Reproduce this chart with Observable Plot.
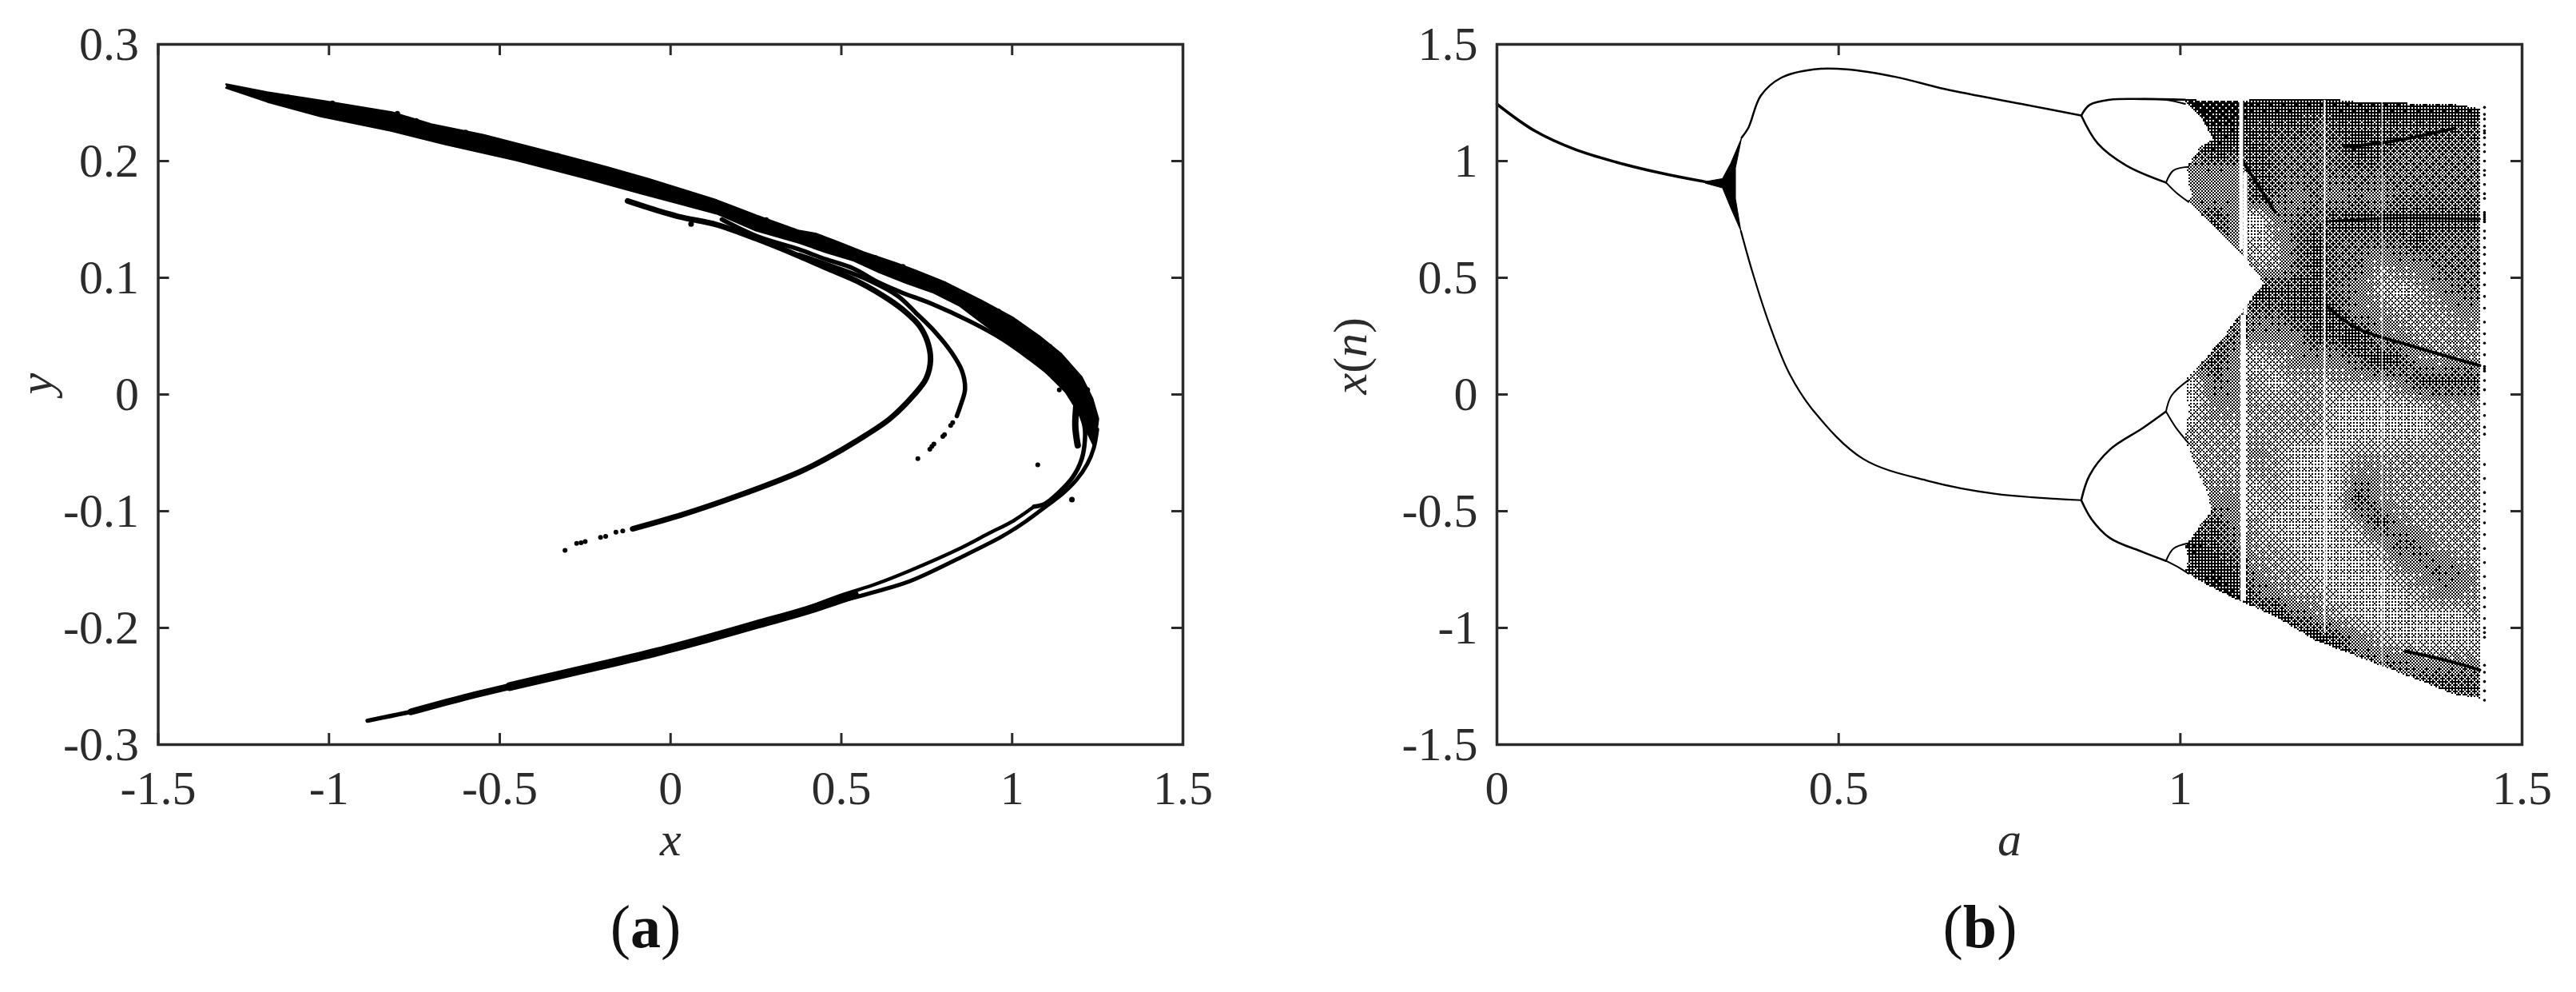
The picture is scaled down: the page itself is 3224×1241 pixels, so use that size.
<!DOCTYPE html>
<html><head><meta charset="utf-8">
<script src="https://cdn.jsdelivr.net/npm/d3@7"></script>
<script src="https://cdn.jsdelivr.net/npm/@observablehq/plot@0.6"></script>
<style>
html,body{margin:0;background:#fff}
#wrap{position:relative;width:3224px;height:1241px;overflow:hidden}
#wrap svg{position:absolute;top:0;background:#fff}
.cap{position:absolute;top:1116px;font:76px "Liberation Serif",serif;color:#111;transform:translateX(-50%)}
.cap b{font-weight:700}
</style></head><body>
<div id="wrap"></div>
<script>
// ---------- shared ticks ----------
const ticksAX=[-1.5,-1,-0.5,0,0.5,1,1.5];
const ticksAY=[-0.3,-0.2,-0.1,0,0.1,0.2,0.3];
const ticksBX=[0,0.5,1,1.5];
const ticksBY=[-1.5,-1,-0.5,0,0.5,1,1.5];

// ---------- panel (a): attractor, [x,y] ----------
const bandTop=[[-1.301,.2658],[-1.181,.2589],[-1.015,.2514],[-.816,.2418],[-.701,.2315],[-.549,.2224],[-.367,.2087],[-.231,.1984],[-.064,.1847],[.135,.1664],[.25,.1535],[.377,.1402],[.424,.1379],[.486,.1311],[.564,.1219],[.658,.1128],[.72,.1059],[.806,.0957],[.908,.0808],[1.001,.066],[1.079,.05],[1.142,.0352],[1.204,.0146],[1.235,-.0036],[1.252,-.0208],[1.247,-.0322],[1.239,-.0436]];
const bandBottom=[[1.212,-.0276],[1.196,-.0162],[1.157,.0021],[1.079,.0249],[1.001,.0432],[.923,.0591],[.845,.0763],[.767,.0877],[.689,.0957],[.611,.1048],[.533,.1151],[.455,.1219],[.377,.1299],[.25,.1405],[.135,.155],[-.084,.1721],[-.241,.1847],[-.451,.2007],[-.659,.2144],[-.816,.2258],[-1.024,.2384],[-1.181,.2509],[-1.301,.2628]];
const lineB=[[.15,.15],[.25,.136],[.377,.1242],[.455,.1158],[.533,.1082],[.611,.0957],[.674,.0877],[.767,.0774],[.877,.0626],[.97,.0477],[1.048,.0317],[1.126,.0135],[1.165,.0009],[1.196,-.014],[1.212,-.0276],[1.213,-.039],[1.204,-.055],[1.177,-.071],[1.134,-.0847],[1.095,-.0938],[1.064,-.0961]];
const lineOuter=[[1.249,-.0299],[1.239,-.0459],[1.22,-.0596],[1.188,-.0733],[1.149,-.0847],[1.103,-.095],[1.04,-.1087],[.97,-.1217],[.85,-.1395],[.7,-.16],[.6,-.169],[.5,-.177],[.45,-.181]];
const lineInner=[[1.064,-.0961],[1.001,-.1087],[.935,-.1185],[.85,-.1315],[.7,-.151],[.6,-.1625],[.5,-.172],[.4,-.183]];
const armWide=[[-.471,-.2503],[-.327,-.2405],[-.183,-.2308],[-.038,-.2205],[.106,-.2092],[.25,-.1973],[.394,-.1855],[.538,-.1715]];
const armMid=[[-.76,-.2719],[-.615,-.2605],[-.471,-.2503]];
const armTip=[[-.887,-.2795],[-.82,-.2755],[-.76,-.2719]];
const inner1=[[-.126,.1658],[.02,.1527],[.135,.1455],[.25,.1335],[.377,.1185],[.455,.1085],[.557,.0955],[.642,.0808],[.689,.0705],[.728,.0591],[.752,.0454],[.761,.0295],[.748,.0135],[.713,-.0002],[.642,-.0208],[.549,-.039],[.455,-.055],[.377,-.0664],[.2,-.0865],[.034,-.103],[-.111,-.1151]];
const inner2=[[.377,.1196],[.479,.1094],[.58,.098],[.666,.0843],[.72,.0694],[.775,.0534],[.822,.0363],[.853,.0203],[.862,.0043],[.849,-.0094],[.838,-.0185]];
const stub=[[1.188,-.0091],[1.185,-.0276],[1.192,-.0436]];
const dotsA=[[-.14,-.117],[-.16,-.118],[-.19,-.1215],[-.205,-.1225],[-.25,-.126],[-.262,-.127],[-.275,-.1275],[-.309,-.1335],
 [.826,-.0242],[.82,-.0265],[.802,-.0345],[.797,-.036],[.771,-.0424],[.765,-.0445],[.759,-.047],[.724,-.055],[1.075,-.0603],[1.138,.0039]];
const bumpsA=[[-1.12,.2545],[-.99,.2495],[-.8,.2405],[-.745,.2345],[-.6,.2245],[-.33,.2045],[-.25,.198],[-.13,.188],[.05,.172],[.28,.1495],[.44,.1345],[.6,.117],[.68,.1095],[.86,.086],[.96,.071],[1.11,.041],[1.22,.004],[1.175,-.09],[.42,-.182],[.06,.146]];

// ---------- panel (b): bifurcation diagram, [a,x(n)] ----------
const stem=[[0,1.244],[.055,1.13],[.115,1.049],[.175,.995],[.236,.951],[.296,.916],[.326,.902],[.338,.905]];
const blob=[[.305,.912],[.33,.925],[.342,.99],[.358,1.1],[.349,.97],[.349,.84],[.357,.7],[.342,.8],[.33,.885],[.305,.905]];
const topBranch=[[.358,1.1],[.368,1.143],[.386,1.28],[.416,1.357],[.464,1.393],[.512,1.393],[.584,1.36],[.656,1.308],[.776,1.24],[.855,1.195]];
const lowBranch=[[.357,.7],[.374,.523],[.398,.306],[.428,.089],[.464,-.073],[.536,-.276],[.632,-.371],[.728,-.425],[.855,-.453]];
const p2a=[[.855,1.195],[.867,1.24],[.897,1.263],[.945,1.266],[1.007,1.263]];
const p2b=[[.855,1.195],[.879,1.076],[.921,.981],[.979,.908]];
const p2c=[[.855,-.453],[.867,-.347],[.897,-.236],[.945,-.144],[.979,-.073]];
const p2d=[[.855,-.453],[.87,-.534],[.897,-.615],[.945,-.675],[.979,-.713]];
const p4a=[[.979,.908],[.99,.96],[1.012,.975]];
const p4b=[[.979,.908],[.995,.862],[1.012,.825]];
const p4c=[[.979,-.073],[.987,-.005],[1.012,.062]];
const p4d=[[.979,-.073],[.993,-.14],[1.012,-.209]];
const p4e=[[.979,-.713],[.99,-.66],[1.012,-.637]];
const p4f=[[.979,-.713],[1,-.745],[1.012,-.768]];
const p4g=[[.945,1.266],[.98,1.262],[1.007,1.245]];

const chaos=[[1.007,1.263],[1.086,1.26],[1.139,1.268],[1.224,1.266],[1.258,1.255],[1.329,1.249],[1.401,1.243],[1.438,1.226],[1.438,-1.3],[1.401,-1.285],[1.329,-1.2],[1.258,-1.12],[1.196,-1.05],[1.139,-.949],[1.089,-.886],[1.038,-.812],[1.007,-.76],[1.012,-.7],[1.007,-.646],[1.015,-.618],[1.029,-.56],[1.045,-.503],[1.043,-.458],[1.038,-.412],[1.024,-.321],[1.012,-.23],[1.007,-.195],[1.012,-.07],[1.007,.056],[1.015,.09],[1.038,.159],[1.067,.262],[1.089,.353],[1.11,.433],[1.123,.478],[1.089,.604],[1.067,.672],[1.038,.752],[1.01,.826],[1.017,.85],[1.012,.9],[1.01,.975],[1.015,1],[1.029,1.06],[1.048,1.095],[1.043,1.118],[1.031,1.186],[1.007,1.255]];
// ink coverage (tenths) on a grid of a and x(n)
const densityA=[1.02,1.05,1.08,1.11,1.14,1.17,1.20,1.23,1.26,1.29,1.32,1.35,1.38,1.41,1.44];
const densityX=[1.25,1.15,1.05,.95,.85,.75,.65,.55,.45,.35,.25,.15,.05,-.05,-.15,-.25,-.35,-.45,-.55,-.65,-.75,-.85,-.95,-1.05,-1.15,-1.25,-1.35];
const density=[
[9,9,9,8,8,8,8,8,8,8,8,8,8,8,8],
[9,8,8,7,7,7,6,7,7,7,7,7,7,7,7],
[6,8,7,7,6,6,6,6,8,7,6,6,6,6,6],
[5,5,5,7,6,6,6,6,6,6,6,6,6,6,6],
[5,5,5,7,6,5,6,5,6,5,6,6,6,6,6],
[5,7,5,2,5,6,6,7,7,7,7,7,7,7,7],
[5,8,5,3,4,6,7,6,6,6,6,7,6,6,6],
[5,5,7,4,4,6,7,6,6,4,5,5,6,6,6],
[5,5,6,8,7,7,7,6,5,4,3,4,5,6,6],
[5,5,6,6,6,7,7,7,5,5,4,4,4,5,5],
[5,6,6,5,5,5,7,7,8,5,5,4,4,4,4],
[5,7,5,3,4,5,5,5,6,8,7,5,4,5,4],
[3,6,5,4,3,4,4,4,4,4,5,7,7,7,7],
[3,5,5,4,4,4,4,3,3,3,3,3,4,4,4],
[4,4,4,4,4,4,4,3,3,3,3,3,4,4,4],
[4,4,4,5,4,3,3,3,4,4,4,4,4,4,4],
[4,4,4,4,4,3,3,3,5,5,4,4,4,4,4],
[5,5,5,3,4,3,3,3,7,5,4,4,4,4,4],
[6,7,5,4,3,3,3,3,4,7,5,4,4,4,4],
[8,7,6,4,4,3,3,3,3,4,6,6,4,4,4],
[7,8,7,5,4,4,3,3,3,3,4,5,6,5,4],
[8,9,8,6,5,4,4,3,3,3,3,4,5,5,4],
[8,9,9,7,8,6,5,4,3,3,3,3,3,3,4],
[8,9,9,8,8,8,8,7,5,4,3,3,3,3,3],
[8,9,9,8,8,8,8,8,6,6,6,5,5,5,5],
[8,9,9,8,8,8,8,8,6,6,5,7,7,7,7],
[8,9,9,8,8,8,8,8,6,6,5,5,5,5,6]];
const bandV=[[1.215,.741],[1.3,.755],[1.438,.752]];
const bandC=[[1.215,.376],[1.258,.284],[1.329,.216],[1.438,.124]];
const bandN=[[1.089,1.01],[1.115,.89],[1.139,.78]];
const bandL=[[1.33,-1.1],[1.39,-1.14],[1.438,-1.18]];
const bandH=[[1.24,1.06],[1.306,1.083],[1.401,1.14]];
const windows=[[1.089,1.26,.62,5],[1.095,.95,.34,5],[1.092,.34,-.885,7],[1.211,1.26,-1.02,2.2],[1.295,1.25,-1.2,1.2]];
const columnEdge=[1.23,1.2,1.18,1.15,1.13,1.12,1.1,1.07,1.04,1,.96,.94,.9,.86,.84,.78,.77,.76,.75,.74,.7,.67,.63,.6,.56,.52,.47,.42,.37,.31,.26,.22,.17,.12,.11,.1,.06,.02,-.04,-.09,-.14,-.17,-.3,-.36,-.42,-.47,-.5,-.55,-.6,-.66,-.72,-.78,-.83,-.87,-.91,-.96,-1,-1.02,-1.04,-1.16,-1.19,-1.23,-1.27,-1.31];

// ---------- ordered halftone screen used to print the density grid ----------
const bayer=[[0,32,8,40,2,34,10,42],[48,16,56,24,50,18,58,26],[12,44,4,36,14,46,6,38],[60,28,52,20,62,30,54,22],[3,35,11,43,1,33,9,41],[51,19,59,27,49,17,57,25],[15,47,7,39,13,45,5,37],[63,31,55,23,61,29,53,21]];
const CELL=2, PXA=1283/1.5, PXV=876/3;
function coverage(a,v){
  const fa=Math.max(0,Math.min(densityA.length-1.001,(a-densityA[0])/.03));
  const fv=Math.max(0,Math.min(densityX.length-1.001,(densityX[0]-v)/.1));
  const i=Math.floor(fa),j=Math.floor(fv),s=fa-i,t=fv-j;
  return ((density[j][i]*(1-s)+density[j][i+1]*s)*(1-t)+(density[j+1][i]*(1-s)+density[j+1][i+1]*s)*t)/10;
}
function halftone(a,v){
  if(!d3.polygonContains(chaos,[a,v])) return NaN;
  const i=Math.floor(a*PXA/CELL),j=Math.floor(v*PXV/CELL+1000);
  return (bayer[j%8][i%8]+.5)/64<coverage(a,v)?1:0;
}

// ---------- shared drawing ----------
const INK="#2b2b2b", F="Liberation Serif", W=1612, H=1060, MT=55, MB=H-931, FS=60;
const poly=(d,fill,sw=2.5)=>Plot.line(d,{x:p=>p[0],y:p=>p[1],fill,stroke:fill,strokeWidth:sw,strokeLinejoin:"round"});
const curve=(d,w,s="#000")=>Plot.line(d,{x:p=>p[0],y:p=>p[1],stroke:s,strokeWidth:w,curve:"catmull-rom",strokeLinecap:"round"});
function panel({marks,xd,yd,xt,yt,ml,mr,xl,yl,left,color}){
  const iw=W-ml-mr, ih=H-MT-MB, tk=14;
  const svg=Plot.plot({width:W,height:H,marginLeft:ml,marginRight:mr,marginTop:MT,marginBottom:MB,
    x:{domain:xd,label:null},y:{domain:yd,label:null},color,
    style:{background:"#fff",overflow:"visible"},
    marks:[
      ...marks,
      Plot.ruleX(xt,{insetTop:ih-tk,stroke:INK,strokeWidth:3}),
      Plot.ruleX(xt,{insetBottom:ih-tk,stroke:INK,strokeWidth:3}),
      Plot.ruleY(yt,{insetLeft:0,insetRight:iw-tk,stroke:INK,strokeWidth:3}),
      Plot.ruleY(yt,{insetRight:0,insetLeft:iw-tk,stroke:INK,strokeWidth:3}),
      Plot.frame({stroke:INK,strokeWidth:3.5}),
      Plot.axisX(xt,{anchor:"bottom",tickSize:0,tickPadding:32,fontSize:FS,fontFamily:F,tickFormat:String,label:null,fill:INK}),
      Plot.axisY(yt,{anchor:"left",tickSize:0,tickPadding:24,fontSize:FS,fontFamily:F,tickFormat:String,label:null,fill:INK}),
      Plot.text([xl],{frameAnchor:"bottom",dy:138,fontSize:FS,fontFamily:F,fontStyle:"italic",fill:INK}),
      Plot.text([yl],{frameAnchor:"left",dx:yl==="y"?-152:-183,rotate:-90,fontSize:FS,fontFamily:F,fontStyle:"italic",fill:INK})
    ]});
  svg.style.left=left+"px";
  document.getElementById("wrap").append(svg);
  return svg;
}

panel({left:0,ml:197.5,mr:W-1480,xd:[-1.5,1.5],yd:[-.3,.3],xt:ticksAX,yt:ticksAY,xl:"x",yl:"y",marks:[
  poly([...bandTop,...bandBottom],"#000"),
  curve(lineB,5.5),curve(lineOuter,5),curve(lineInner,4.5),curve(armWide,11),curve(armMid,8.5),curve(armTip,5.5),
  curve(inner1,7),curve(inner2,5.5),curve(stub,8),
  Plot.dot(dotsA,{x:d=>d[0],y:d=>d[1],r:3,fill:"#000"}),
  Plot.dot(bumpsA,{x:d=>d[0],y:d=>d[1],r:3.5,fill:"#000"})
]});

const svgB=panel({left:W,ml:1873-W,mr:2*W-3156,xd:[0,1.5],yd:[-1.5,1.5],xt:ticksBX,yt:ticksBY,xl:"a",yl:"x(n)",
  color:{type:"linear",domain:[0,1],range:["#fff","#000"]},marks:[
  Plot.raster({x1:1,x2:1.45,y1:-1.35,y2:1.3,fill:halftone,pixelSize:CELL,imageRendering:"pixelated"}),
  ...[bandC,bandN,bandL,bandH].map(d=>curve(d,4)),curve(bandV,3),
  Plot.ruleX(windows,{x:d=>d[0],y1:d=>d[1],y2:d=>d[2],strokeWidth:d=>d[3],stroke:"#fff"}),
  Plot.dot(columnEdge,{x:()=>1.445,y:d=>d,r:1.8,fill:"#000"}),
  curve(stem,3.5),poly(blob,"#000",1),curve(topBranch,2.5),curve(lowBranch,2.2),
  ...[p2a,p2b,p2c,p2d].map(d=>curve(d,2.6)),
  ...[p4a,p4b,p4c,p4d,p4e,p4f,p4g].map(d=>curve(d,2))
]});

// upright parentheses inside the x(n) label
svgB.querySelectorAll("text").forEach(t=>{ if(t.textContent==="x(n)"){
  const n=t.querySelector("tspan")||t; n.textContent="";
  [["x","italic"],["(","normal"],["n","italic"],[")","normal"]].forEach(([s,st])=>{
    d3.select(n).append("tspan").attr("font-style",st).text(s);});
}});

[["a",808],["b",2478]].forEach(([s,x])=>{
  const d=document.createElement("div");d.className="cap";d.style.left=x+"px";
  d.innerHTML="(<b>"+s+"</b>)";document.getElementById("wrap").append(d);
});
</script></body></html>
